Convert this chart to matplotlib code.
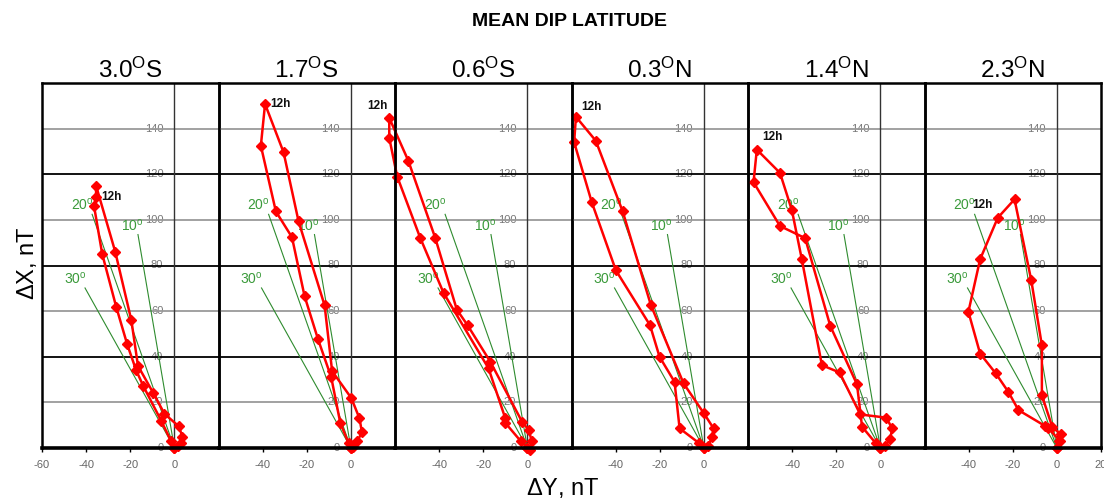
import matplotlib
matplotlib.use('Agg')
import matplotlib.pyplot as plt
import numpy as np

plt.rcParams['font.family'] = ['Liberation Sans', 'DejaVu Sans']
plt.rcParams['mathtext.fontset'] = 'custom'
plt.rcParams['mathtext.rm'] = 'Liberation Sans'
plt.rcParams['mathtext.it'] = 'Liberation Sans:italic'
plt.rcParams['mathtext.bf'] = 'Liberation Sans:bold'

# ---------------- data ----------------
main_title = "MEAN DIP LATITUDE"
panel_titles = [r"3.0$^{\mathrm{O}}$S", r"1.7$^{\mathrm{O}}$S", r"0.6$^{\mathrm{O}}$S",
                r"0.3$^{\mathrm{O}}$N", r"1.4$^{\mathrm{O}}$N", r"2.3$^{\mathrm{O}}$N"]
xlabel = r"$\Delta$Y, nT"
ylabel = r"$\Delta$X, nT"

# hourly hodographs: dY (east component) and dX (north component), nT
p1_dy = [0, -1.5, -6, -14, -17.3, -21.4, -26.4, -32.7, -36.4, -35.5, -35.5, -26.8, -19.5, -16.5, -9.5, -4.5, 2.0, 3.6, 3.0, 1.5, 0]
p1_dx = [0, 3, 12, 27, 34, 45.5, 62, 85, 106, 110, 115, 86, 56, 36, 24, 15, 9.5, 5, 2, 1, 0]
p2_dy = [0, -1, -4.8, -8.9, -14.9, -21, -26.7, -34, -40.8, -38.9, -30.5, -23.7, -11.9, -8.5, 0.2, 3.9, 5, 3, 1, 0]
p2_dx = [0, 2, 11, 31, 47.7, 66.6, 92.4, 103.7, 132.5, 150.8, 129.6, 99.3, 62.5, 33.7, 21.9, 13, 7, 3, 0.5, 0]
p3_dy = [0, -3, -10, -10, -17.6, -38, -48.6, -59, -62.6, -62.6, -54, -41.8, -32, -27.1, -16.8, -2.4, 0.6, 2, 1, 0]
p3_dx = [0, 3, 11, 13, 34.9, 68, 92.2, 119, 135.9, 144.7, 126, 92.2, 60.7, 53.8, 37.8, 11.5, 7.9, 3, -1, 0]
p4_dy = [0, -2, -11, -13.3, -20.1, -24.4, -39.9, -50.8, -58.8, -58, -49, -36.8, -24, -9.2, 0, 4.4, 3.8, 2, 0]
p4_dx = [0, 2, 8.6, 29, 40, 53.8, 77.9, 107.7, 134, 145.2, 134.7, 103.7, 62.6, 28.3, 15.2, 8.6, 5, 1, 0]
p5_dy = [0, -2, -8.3, -10.6, -22.7, -34.1, -45.5, -57.5, -56, -45.5, -40.1, -35.6, -26.5, -18.5, -9.1, 2.7, 5.3, 4.5, 2, 0]
p5_dx = [0, 2, 9.3, 27.9, 53.5, 92, 97.3, 116.5, 130.8, 120.6, 104.2, 82.7, 36.3, 33.1, 14.7, 13.3, 8.6, 3.9, 1, 0]
p6_dy = [0, 1.5, -3.8, -5.6, -17.4, -22, -27.7, -34.8, -40.1, -34.8, -26.8, -19.2, -11.6, -6.8, -6.8, -2, 2, 1, 0]
p6_dx = [0, 3, 8.6, 9.8, 16.6, 24.6, 32.7, 41.4, 59.7, 82.7, 100.9, 109, 73.5, 45, 23.1, 9, 6, 3, 0]
noon_index = [9, 9, 9, 9, 8, 10]

# reference direction lines (degrees west of north) and their lengths, nT
ref_angles = [10, 20, 30]
ref_lengths = [95, 109, 81]
ref_labels = [r"10$^{\mathrm{o}}$", r"20$^{\mathrm{o}}$", r"30$^{\mathrm{o}}$"]

ygrid = [20, 40, 60, 80, 100, 120, 140]
ylabels = [0, 20, 40, 60, 80, 100, 120, 140]
xticks_sets = [[-60, -40, -20, 0], [-40, -20, 0], [-40, -20, 0],
               [-40, -20, 0], [-40, -20, 0], [-40, -20, 0, 20]]

series_dy = [p1_dy, p2_dy, p3_dy, p4_dy, p5_dy, p6_dy]
series_dx = [p1_dx, p2_dx, p3_dx, p4_dx, p5_dx, p6_dx]

# ---------------- style ----------------
noon_ha = ['left', 'left', 'right', 'left', 'left', 'right']
noon_off = [(4, 0), (4, 0), (-1, 4), (4, 3), (4, 5), (-4, 5)]
ref_ha = ['right', 'right', 'right']
ref_off = [(4, 1), (1, 1), (1, 1)]
RED = '#ff0000'
GREEN_LINE = '#2e8b2e'
GREEN_TXT = '#3a9a3a'

fig = plt.figure(figsize=(11.04, 5.01), dpi=100)
left, right = 42 / 1104, 1101 / 1104
bottom, top = 1 - 448 / 501, 1 - 83 / 501
w = (right - left) / 6

for i in range(6):
    ax = fig.add_axes([left + i * w, bottom, w, top - bottom])
    ax.set_xlim(-60, 20)
    ax.set_ylim(0, 160)
    ax.patch.set_alpha(0)
    for s in ax.spines.values():
        s.set_color('black')
        s.set_linewidth(1.8)
        s.set_zorder(6)
    ax.spines['bottom'].set_linewidth(2.6)

    # grid
    for v in ygrid:
        ax.axhline(v, color='black' if v % 40 == 0 else '#9a9a9a', lw=1.3, zorder=2)
    ax.axvline(0, color='#333333', lw=1.0, zorder=2)

    # y labels along x = 0
    for v in ylabels:
        ax.annotate(str(v), xy=(0, v), xytext=(-8, 0), textcoords='offset points',
                    ha='right', va='center', fontsize=8, color='#777777', zorder=1.5)

    # reference lines
    for a, L, lab, ha, off in zip(ref_angles, ref_lengths, ref_labels, ref_ha, ref_off):
        ex = -L * np.sin(np.radians(a))
        ey = L * np.cos(np.radians(a))
        ax.plot([0, ex], [0, ey], color=GREEN_LINE, lw=0.8, zorder=3)
        ax.annotate(lab, xy=(ex, ey), xytext=off, textcoords='offset points',
                    ha=ha, va='bottom', fontsize=10, color=GREEN_TXT, zorder=3)

    # hodograph
    dy = series_dy[i]
    dx = series_dx[i]
    ax.plot(dy, dx, color=RED, lw=1.8, marker='D', markersize=5,
            markerfacecolor=RED, markeredgecolor=RED, zorder=4, clip_on=False)
    k = noon_index[i]
    ax.annotate('12h', xy=(dy[k], dx[k]), xytext=noon_off[i], textcoords='offset points',
                ha=noon_ha[i], va='center' if noon_off[i][1] == 0 else 'bottom',
                fontsize=8.5, fontweight='bold', color='#111111', zorder=5,
                annotation_clip=False)

    ax.set_yticks([])
    ax.set_xticks(xticks_sets[i])
    ax.set_xticklabels([str(t) for t in xticks_sets[i]])
    ax.tick_params(axis='x', length=3, width=1, color='black', labelcolor='#666666',
                   labelsize=8, pad=6)
    ax.tick_params(axis='y', left=False, labelleft=False)

    ax.text(0.5, 1.0, panel_titles[i], transform=ax.transAxes, ha='center', va='bottom',
            fontsize=17.5, color='black')

fig.text(0.516, 0.958, main_title, ha='center', va='center', fontsize=14, fontweight='bold')
fig.text(0.0245, 0.475, ylabel, rotation=90, ha='center', va='center', fontsize=17)
fig.text(0.51, 0.026, xlabel, ha='center', va='center', fontsize=17)

fig.savefig('out.png', dpi=100)
